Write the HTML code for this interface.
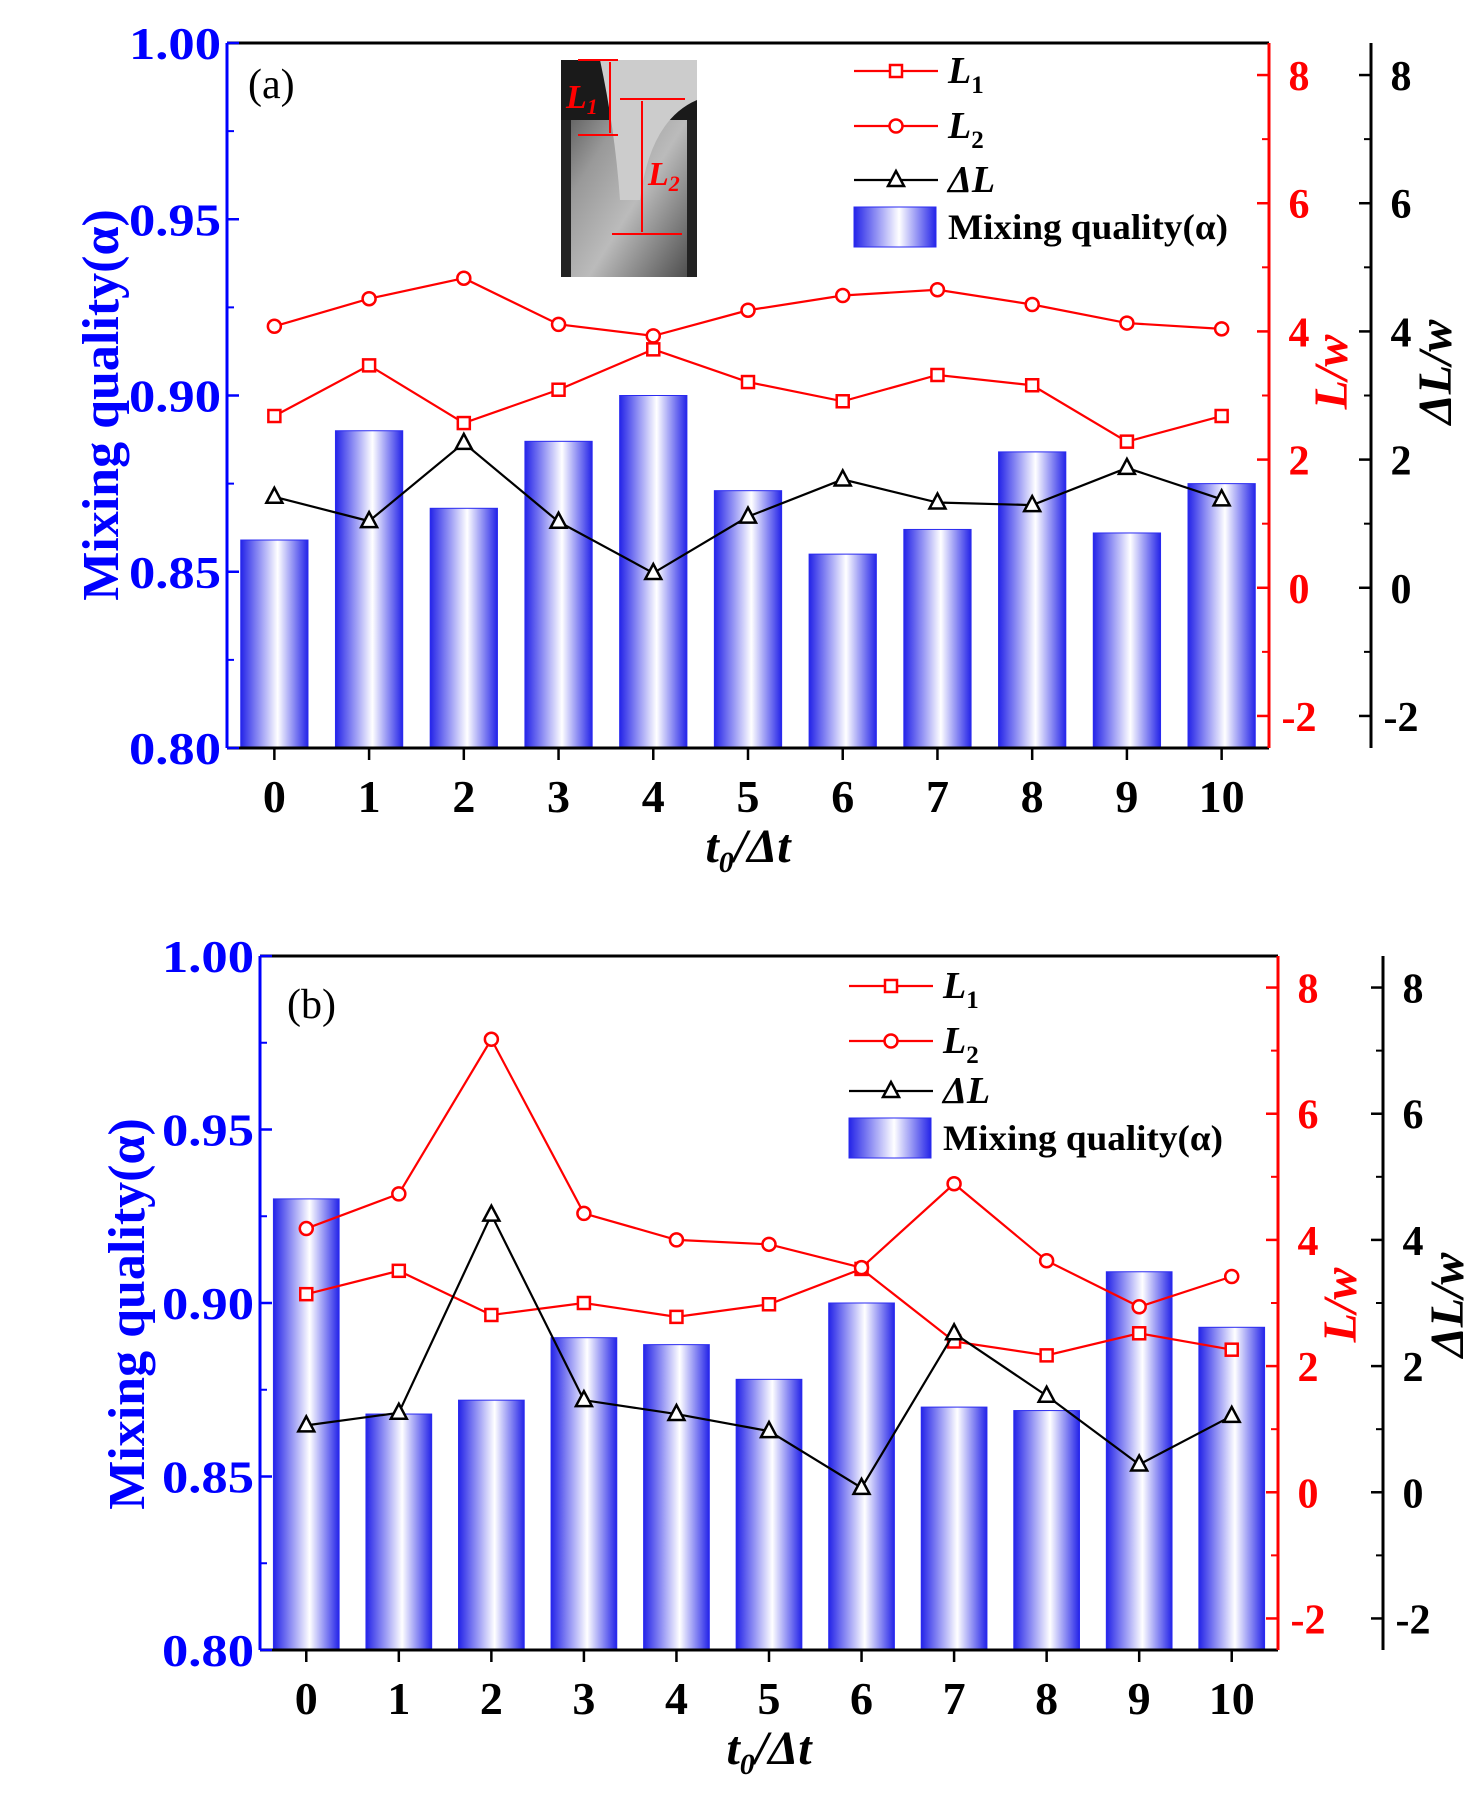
<!DOCTYPE html>
<html><head><meta charset="utf-8"><style>
html,body{margin:0;padding:0;background:#fff;}
svg{display:block;}
text{font-family:"Liberation Serif",serif;}
</style></head><body>
<svg id="fig" width="1475" height="1801" viewBox="0 0 1475 1801" xmlns="http://www.w3.org/2000/svg">
<defs>
<linearGradient id="barg" x1="0" x2="1" y1="0" y2="0">
<stop offset="0" stop-color="#2424e8"/><stop offset="0.55" stop-color="#ffffff"/><stop offset="1" stop-color="#2424e8"/>
</linearGradient>
<linearGradient id="insetg" x1="0" x2="1" y1="0" y2="1">
<stop offset="0" stop-color="#333"/><stop offset="0.35" stop-color="#999"/><stop offset="0.6" stop-color="#bbb"/><stop offset="1" stop-color="#444"/>
</linearGradient>
</defs>
</svg>
<script>
const categories = [0,1,2,3,4,5,6,7,8,9,10];
const alphaA = [0.859,0.890,0.868,0.887,0.900,0.873,0.855,0.862,0.884,0.861,0.875];
const l1A = [2.68,3.47,2.57,3.09,3.72,3.21,2.91,3.32,3.16,2.28,2.68];
const l2A = [4.08,4.51,4.83,4.11,3.93,4.33,4.56,4.65,4.42,4.13,4.04];
const dlA = [1.42,1.04,2.26,1.03,0.23,1.11,1.69,1.33,1.29,1.87,1.38];
const alphaB = [0.930,0.868,0.872,0.890,0.888,0.878,0.900,0.870,0.869,0.909,0.893];
const l1B = [3.14,3.51,2.81,3.00,2.78,2.98,3.54,2.39,2.17,2.52,2.26];
const l2B = [4.18,4.73,7.18,4.42,4.00,3.93,3.56,4.89,3.67,2.94,3.42];
const dlB = [1.06,1.26,4.40,1.46,1.24,0.97,0.07,2.52,1.53,0.44,1.21];
const leftTicks = ["0.80","0.85","0.90","0.95","1.00"];
const rightTicks = ["-2","0","2","4","6","8"];

const NS="http://www.w3.org/2000/svg";
const svg=document.getElementById('fig');
function mk(tag,attrs,parent,txt){const e=document.createElementNS(NS,tag);for(const k in attrs)e.setAttribute(k,attrs[k]);if(txt!==undefined)e.textContent=txt;(parent||svg).appendChild(e);return e;}

function panel(P){
  const g=mk('g',{});
  
  
  const L=P.left,R=P.right,T=P.top,B=P.bottom;
  const xs=i=>L+(i+0.5)*(R-L)/11;
  const ya=v=>B-(v-0.80)/0.20*(B-T);
  const yr=v=>B-(v+2.5)/11*(B-T);
  const bw=(R-L)/11*0.71;
  categories.forEach((c,i)=>{
    const r=mk('rect',{x:xs(i)-bw/2,y:ya(P.alpha[i]),width:bw,height:B-ya(P.alpha[i]),fill:'url(#barg)',stroke:'#2a2af0','stroke-width':1},g);
    
    
  });
  mk('line',{x1:L,y1:T,x2:R,y2:T,stroke:'#000','stroke-width':3},g);
  mk('line',{x1:L,y1:B,x2:R,y2:B,stroke:'#000','stroke-width':3},g);
  const la=mk('line',{x1:L,y1:T,x2:L,y2:B,stroke:'#0000ff','stroke-width':3},g);
  
  
  const ra=mk('line',{x1:R,y1:T,x2:R,y2:B,stroke:'#ff0000','stroke-width':3},g);
  
  
  const ba=mk('line',{x1:P.far,y1:T,x2:P.far,y2:B,stroke:'#000','stroke-width':3},g);
  
  
  leftTicks.forEach(t=>{
    const v=parseFloat(t);const y=ya(v);
    mk('line',{x1:L,y1:y,x2:L+12,y2:y,stroke:'#0000ff','stroke-width':2.5},g);
    const tx=mk('text',{x:L-6,y:y+16,'text-anchor':'end','font-size':46,'font-weight':'bold',fill:'#0000ff',textLength:92,lengthAdjust:'spacingAndGlyphs'},g,t);
    
    
    if(v<1){const ym=ya(v+0.025);mk('line',{x1:L,y1:ym,x2:L+7,y2:ym,stroke:'#0000ff','stroke-width':2},g);}
  });
  rightTicks.forEach(t=>{
    const v=parseFloat(t);const y=yr(v);
    mk('line',{x1:R-12,y1:y,x2:R,y2:y,stroke:'#ff0000','stroke-width':2.5},g);
    mk('line',{x1:P.far-12,y1:y,x2:P.far,y2:y,stroke:'#000','stroke-width':2.5},g);
    const ym=yr(v+1);
    if(v<8){mk('line',{x1:R-7,y1:ym,x2:R,y2:ym,stroke:'#ff0000','stroke-width':2},g);mk('line',{x1:P.far-7,y1:ym,x2:P.far,y2:ym,stroke:'#000','stroke-width':2},g);}
    const a=mk('text',{x:R+30,y:y+15,'text-anchor':'middle','font-size':42,'font-weight':'bold',fill:'#ff0000'},g,t);
    
    
    const b=mk('text',{x:P.far+30,y:y+15,'text-anchor':'middle','font-size':42,'font-weight':'bold',fill:'#000'},g,t);
    
    
  });
  categories.forEach((c,i)=>{
    mk('line',{x1:xs(i),y1:B,x2:xs(i),y2:B+12,stroke:'#000','stroke-width':2.5},g);
    const t=mk('text',{x:xs(i),y:B+64,'text-anchor':'middle','font-size':46,'font-weight':'bold',fill:'#000'},g,String(c));
    
    
  });
  function series(vals,col,shape,name){
    const pts=vals.map((v,i)=>xs(i)+','+yr(v)).join(' ');
    const pl=mk('polyline',{points:pts,fill:'none',stroke:col,'stroke-width':2.2},g);
    
    
    vals.forEach((v,i)=>{marker(g,xs(i),yr(v),col,shape,name);});
  }
  series(P.l1,'#ff0000','sq','l1');
  series(P.l2,'#ff0000','ci','l2');
  series(P.dl,'#000','tr','delta-l');
  const lx=P.legX;
  [['sq','#ff0000',P.legY[0],'l1'],['ci','#ff0000',P.legY[1],'l2'],['tr','#000',P.legY[2],'delta-l']].forEach(e=>{
    mk('line',{x1:lx,y1:e[2],x2:lx+84,y2:e[2],stroke:e[1],'stroke-width':2.2},g);
    marker(g,lx+42,e[2],e[1],e[0],'legend-'+e[3]);
  });
  const t1=mk('text',{x:lx+94,y:P.legY[0]+12,'font-size':38,'font-style':'italic','font-weight':'bold',fill:'#000'},g);
  t1.innerHTML='L<tspan font-size="25" dy="10" font-style="normal">1</tspan>';
  
  
  const t2=mk('text',{x:lx+94,y:P.legY[1]+12,'font-size':38,'font-style':'italic','font-weight':'bold',fill:'#000'},g);
  t2.innerHTML='L<tspan font-size="25" dy="10" font-style="normal">2</tspan>';
  
  
  const t3=mk('text',{x:lx+94,y:P.legY[2]+12,'font-size':38,'font-style':'italic','font-weight':'bold',fill:'#000'},g,'\u0394L');
  
  
  const lr=mk('rect',{x:lx,y:P.legY[3]-20,width:82,height:40,fill:'url(#barg)',stroke:'#2a2af0','stroke-width':1},g);
  
  
  const t4=mk('text',{x:lx+94,y:P.legY[3]+12,'font-size':36,'font-weight':'bold',fill:'#000',textLength:280,lengthAdjust:'spacingAndGlyphs'},g,'Mixing quality(\u03b1)');
  
  
  const pl=mk('text',{x:P.tagX,y:P.tagY,'font-size':42,fill:'#000'},g,'('+P.id+')');
  
  
  const yt=mk('text',{x:0,y:0,transform:'translate('+P.ytX+','+P.ytY+') rotate(-90)','text-anchor':'middle','font-size':52,'font-weight':'bold',fill:'#0000ff'},g,'Mixing quality(\u03b1)');
  
  
  const rt=mk('text',{x:0,y:0,transform:'translate('+(R+78)+','+P.rtY+') rotate(-90)','text-anchor':'middle','font-size':48,'font-weight':'bold','font-style':'italic',fill:'#ff0000'},g,'L/w');
  
  
  const dt=mk('text',{x:0,y:0,transform:'translate('+(P.far+80)+','+P.rtY+') rotate(-90)','text-anchor':'middle','font-size':48,'font-weight':'bold','font-style':'italic',fill:'#000'},g,'\u0394L/w');
  
  
  const xt=mk('text',{x:(L+R)/2,y:B+114,'text-anchor':'middle','font-size':48,'font-weight':'bold','font-style':'italic',fill:'#000'},g);
  xt.innerHTML='t<tspan font-size="30" dy="10">0</tspan><tspan dy="-10">/\u0394t</tspan>';
  
  
}
function marker(g,x,y,col,shape,name){
  let m;
  if(shape==='sq')m=mk('rect',{x:x-6,y:y-6,width:12,height:12,fill:'#fff',stroke:col,'stroke-width':2.5},g);
  else if(shape==='ci')m=mk('circle',{cx:x,cy:y,r:6.5,fill:'#fff',stroke:col,'stroke-width':2.5},g);
  else m=mk('polygon',{points:(x)+','+(y-9)+' '+(x-8)+','+(y+6)+' '+(x+8)+','+(y+6),fill:'#fff',stroke:col,'stroke-width':2.5},g);
  
  
}
panel({id:'a',left:227,right:1269,top:43,bottom:748,far:1371,alpha:alphaA,l1:l1A,l2:l2A,dl:dlA,legX:854,legY:[71,126,180,227],tagX:248,tagY:98,ytX:118,ytY:405,rtY:372});
panel({id:'b',left:260,right:1278,top:956,bottom:1650,far:1383,alpha:alphaB,l1:l1B,l2:l2B,dl:dlB,legX:849,legY:[986,1041,1091,1138],tagX:287,tagY:1018,ytX:144,ytY:1314,rtY:1305});
const ins=mk('g',{});


mk('rect',{x:561,y:60,width:136,height:217,fill:'url(#insetg)'},ins);
mk('rect',{x:561,y:60,width:136,height:60,fill:'#1a1a1a'},ins);
mk('path',{d:'M600 60 Q615 130 620 200 L640 200 Q650 120 697 100 L697 60 Z',fill:'#ccc'},ins);
mk('rect',{x:561,y:120,width:10,height:157,fill:'#222'},ins);
mk('rect',{x:687,y:120,width:10,height:157,fill:'#222'},ins);
mk('line',{x1:578,y1:60,x2:618,y2:60,stroke:'#f00','stroke-width':2},ins);
mk('line',{x1:578,y1:135,x2:618,y2:135,stroke:'#f00','stroke-width':2},ins);
mk('line',{x1:610,y1:62,x2:610,y2:133,stroke:'#f00','stroke-width':2},ins);
mk('line',{x1:620,y1:99,x2:685,y2:99,stroke:'#f00','stroke-width':2},ins);
mk('line',{x1:612,y1:234,x2:682,y2:234,stroke:'#f00','stroke-width':2},ins);
mk('line',{x1:642,y1:101,x2:642,y2:232,stroke:'#f00','stroke-width':2},ins);
mk('text',{x:566,y:108,'font-size':34,'font-weight':'bold','font-style':'italic',fill:'#f00'},ins).innerHTML='L<tspan font-size="22" dy="6">1</tspan>';
mk('text',{x:648,y:185,'font-size':34,'font-weight':'bold','font-style':'italic',fill:'#f00'},ins).innerHTML='L<tspan font-size="22" dy="6">2</tspan>';
</script>
</body></html>
